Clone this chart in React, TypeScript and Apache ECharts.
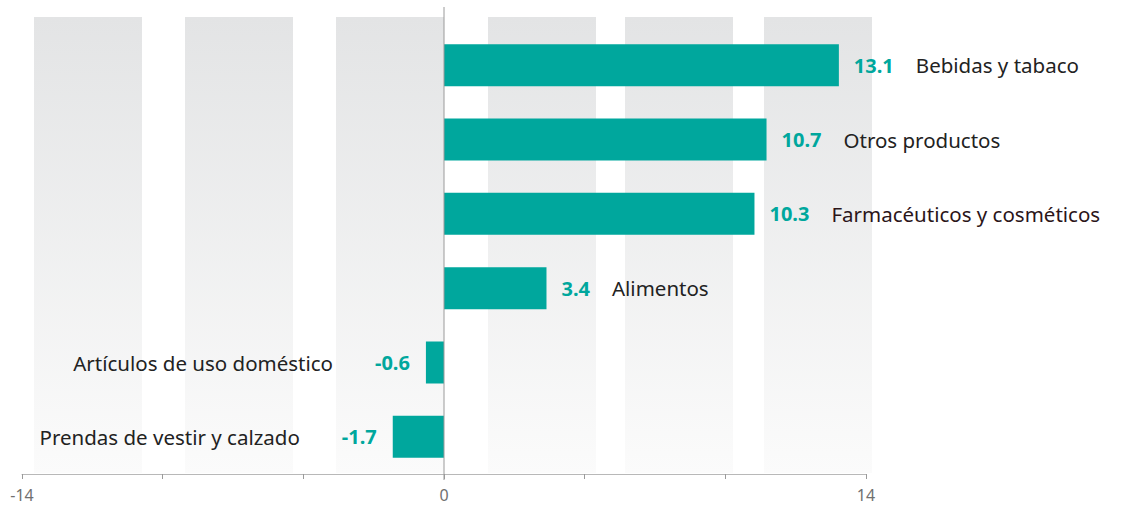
import React, { useEffect, useRef } from "react";
import * as echarts from "echarts";

const categories = [
  "Bebidas y tabaco",
  "Otros productos",
  "Farmacéuticos y cosméticos",
  "Alimentos",
  "Artículos de uso doméstico",
  "Prendas de vestir y calzado",
];
const values = [13.1, 10.7, 10.3, 3.4, -0.6, -1.7];
const tickLabels = ["-14", "0", "14"];
const nameColors = ["#222222", "#222222", "#2b1519", "#222222", "#222222", "#222222"];

const TEAL = "#00a79d";
const FONT = "'Noto Sans', sans-serif";

export default function App() {
  const ref = useRef<HTMLDivElement>(null);
  useEffect(() => {
    if (!ref.current) return;
    const chart = echarts.init(ref.current, null, { renderer: "svg" });
    const data = values.map((v, i) => {
      const pos = v >= 0;
      const name = categories[i];
      return {
        value: v,
        label: {
          show: true,
          position: pos ? "right" : "left",
          distance: pos ? 15 : 16,
          formatter: pos
            ? `{v|${v.toFixed(1)}}{g|}{n${i}|${name}}`
            : `{n${i}|${name}}{g2|}{v|${v.toFixed(1)}}`,
          rich: {
            v: { fontFamily: FONT, fontSize: 20, fontWeight: "bold", color: TEAL },
            g: { width: 22 },
            g2: { width: 42 },
            [`n${i}`]: { fontFamily: FONT, fontSize: 20.5, color: nameColors[i] },
          },
        },
      };
    });

    const stripes: [number, number][] = [
      [34, 142], [185, 293], [336, 444], [488, 596], [625, 733], [764, 872],
    ];
    const stripeTop = 17;
    const stripeBottom = 473;

    const option: any = {
      animation: false,
      grid: { left: 22, right: 263, top: 28, bottom: 35, containLabel: false },
      xAxis: {
        type: "value",
        min: -14,
        max: 14,
        interval: 14 / 3,
        axisLine: { show: true, lineStyle: { color: "#b8b8b8", width: 1 } },
        axisTick: { show: true, length: 5, lineStyle: { color: "#9a9a9a" } },
        splitLine: { show: false },
        axisLabel: {
          margin: 13,
          fontFamily: FONT,
          fontSize: 16,
          color: "#707070",
          formatter: (val: number) => {
            const r = Math.round(val * 1000) / 1000;
            if (r === -14) return tickLabels[0];
            if (r === 0) return tickLabels[1];
            if (r === 14) return tickLabels[2];
            return "";
          },
        },
      },
      yAxis: {
        type: "category",
        data: categories,
        inverse: true,
        axisLine: { show: false },
        axisTick: { show: false },
        axisLabel: { show: false },
        splitLine: { show: false },
      },
      graphic: stripes.map(([a, b]) => ({
        type: "rect",
        z: -10,
        silent: true,
        shape: { x: a, y: stripeTop, width: b - a, height: stripeBottom - stripeTop },
        style: {
          fill: new echarts.graphic.LinearGradient(0, 0, 0, 1, [
            { offset: 0, color: "#e3e4e5" },
            { offset: 1, color: "#fbfbfb" },
          ]),
        },
      })),
      series: [
        {
          type: "bar",
          data,
          barWidth: 42,
          itemStyle: { color: TEAL },
          z: 3,
        },
      ],
    };
    chart.setOption(option);
    const x0 = chart.convertToPixel({ xAxisIndex: 0 }, 0) as number;
    chart.setOption({
      graphic: [
        ...option.graphic,
        {
          type: "line",
          z: 10,
          silent: true,
          shape: { x1: x0, y1: 7, x2: x0, y2: 480 },
          style: { stroke: "#9a9a9a", lineWidth: 1 },
        },
      ],
    });
    return () => chart.dispose();
  }, []);
  return (
    <div
      ref={ref}
      style={{ position: "fixed", left: 0, top: 0, width: 1129, height: 509, background: "#fff" }}
    />
  );
}
